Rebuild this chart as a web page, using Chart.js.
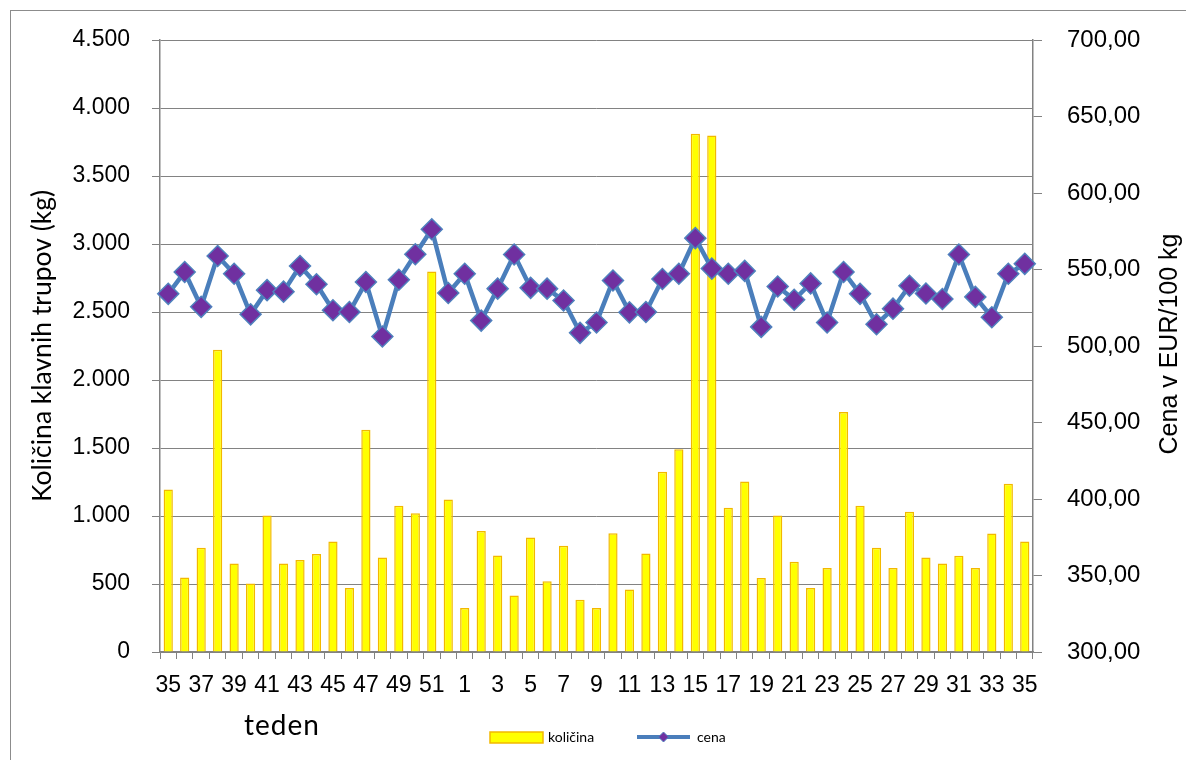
<!DOCTYPE html>
<html>
<head>
<meta charset="utf-8">
<script src="https://cdn.jsdelivr.net/npm/chart.js@4.4.1/dist/chart.umd.min.js"></script>
<style>
    html, body { margin: 0; padding: 0; background: #fff; overflow: hidden; }
    #wrap { position: relative; width: 1186px; height: 760px; }
</style>
</head>
<body>
<div id="wrap"><canvas id="chart" width="1186" height="760"></canvas></div>
<script>
// tedni: od 35. tedna do 35. tedna naslednjega leta
const weeks = [35, 36, 37, 38, 39, 40, 41, 42, 43, 44, 45, 46, 47, 48, 49, 50, 51, 52,
    1, 2, 3, 4, 5, 6, 7, 8, 9, 10, 11, 12, 13, 14, 15, 16, 17,
    18, 19, 20, 21, 22, 23, 24, 25, 26, 27, 28, 29, 30, 31, 32, 33, 34, 35];

// količina klavnih trupov (kg)
const kolicina = [1195, 547, 767, 2223, 650, 503, 1004, 650, 677, 721, 813, 471, 1635, 694, 1075, 1020, 2797, 1121,
    324, 890, 710, 416, 841, 520, 781, 384, 324, 873, 460, 724, 1325, 1491, 3811, 3798, 1061,
    1254, 544, 1004, 664, 471, 617, 1765, 1075, 767, 617, 1031, 694, 650, 707, 617, 871, 1238, 813];

// cena v EUR/100 kg
const cena = [534.1, 548.4, 525.6, 558.8, 547.2, 520.7, 536.5, 535.5, 552.3, 540.4, 523.4, 522.2, 541.8, 506.2, 543.3, 560.0, 576.3, 534.6,
    547.2, 516.6, 537.5, 559.8, 538.0, 537.5, 529.7, 508.6, 515.4, 542.8, 522.0, 522.2, 543.8, 547.2, 570.5, 550.6, 547.2,
    549.1, 512.5, 538.9, 530.2, 540.9, 515.4, 548.4, 534.1, 514.2, 524.4, 539.4, 534.3, 530.7, 559.8, 532.1, 518.8, 547.2, 553.7];

const seriesNames = ['količina', 'cena'];
const axisTitles = ['Količina klavnih trupov (kg)', 'Cena v EUR/100 kg', 'teden'];

const gridGray = '#828282';
const barFill = '#FFFF00';
const barEdge = '#F2B800';
const lineBlue = '#4A7EBB';
const markerPurple = '#7030A0';

const fmtKg = (v) => {
    if (v < 1000) return String(v);
    return Math.floor(v / 1000) + '.' + String(v % 1000).padStart(3, '0');
};
const fmtEur = (v) => v.toFixed(2).replace('.', ',');

// naslovi osi in legenda, ki jih Chart.js ne nariše tako kot v izvirniku
const extrasPlugin = {
    id: 'extras',
    afterDraw(chart) {
        const ctx = chart.ctx;
        ctx.save();

        // okvir
        ctx.strokeStyle = '#8c8c8c';
        ctx.lineWidth = 1;
        ctx.strokeRect(10.5, 10.5, 1400, 1000);

        // desni naslov
        ctx.fillStyle = '#000';
        ctx.font = '25px "Liberation Sans"';
        ctx.textAlign = 'center';
        ctx.textBaseline = 'middle';
        ctx.translate(1170, 344);
        ctx.rotate(-Math.PI / 2);
        ctx.fillText(axisTitles[1], 0, 0);
        ctx.setTransform(1, 0, 0, 1, 0, 0);

        // naslov x osi
        ctx.font = '28px Lato';
        ctx.textBaseline = 'alphabetic';
        if ('letterSpacing' in ctx) ctx.letterSpacing = '1px';
        ctx.fillText(axisTitles[2], 282, 735);
        if ('letterSpacing' in ctx) ctx.letterSpacing = '0px';

        // legenda
        const ly = 737;
        ctx.fillStyle = barFill;
        ctx.strokeStyle = barEdge;
        ctx.lineWidth = 1.5;
        ctx.fillRect(490, ly - 5, 53, 11);
        ctx.strokeRect(490, ly - 5, 53, 11);

        ctx.strokeStyle = lineBlue;
        ctx.lineWidth = 4;
        ctx.beginPath();
        ctx.moveTo(637, ly);
        ctx.lineTo(690, ly);
        ctx.stroke();
        ctx.fillStyle = markerPurple;
        ctx.strokeStyle = '#4F81BD';
        ctx.lineWidth = 1;
        ctx.beginPath();
        ctx.moveTo(663.5, ly - 5);
        ctx.lineTo(668.5, ly);
        ctx.lineTo(663.5, ly + 5);
        ctx.lineTo(658.5, ly);
        ctx.closePath();
        ctx.fill();
        ctx.stroke();

        ctx.fillStyle = '#000';
        ctx.font = '14px Lato';
        ctx.textAlign = 'left';
        ctx.textBaseline = 'middle';
        ctx.fillText(seriesNames[0], 548, ly);
        ctx.fillText(seriesNames[1], 697, ly);
        ctx.restore();
    }
};

const ctx = document.getElementById('chart').getContext('2d');
new Chart(ctx, {
    type: 'bar',
    data: {
        labels: weeks,
        datasets: [{
            type: 'bar',
            label: seriesNames[0],
            data: kolicina,
            yAxisID: 'y',
            backgroundColor: barFill,
            borderColor: barEdge,
            borderWidth: 1.5,
            barPercentage: 0.56,
            categoryPercentage: 1,
            order: 1
        }, {
            type: 'line',
            label: seriesNames[1],
            data: cena,
            yAxisID: 'y1',
            borderColor: lineBlue,
            borderWidth: 4.5,
            pointStyle: 'rectRot',
            pointRadius: 10.5,
            pointBackgroundColor: markerPurple,
            pointBorderColor: '#4F81BD',
            pointBorderWidth: 1.5,
            tension: 0,
            order: 0
        }]
    },
    options: {
        responsive: false,
        animation: false,
        layout: { padding: { left: 23, top: 40, right: 0, bottom: 0 } },
        plugins: {
            legend: { display: false },
            tooltip: { enabled: false }
        },
        scales: {
            x: {
                grid: { drawOnChartArea: false, color: gridGray, tickLength: 7, offset: true },
                border: { color: gridGray, width: 1.5 },
                ticks: {
                    autoSkip: false,
                    maxRotation: 0,
                    padding: 13,
                    color: '#000',
                    font: { family: 'Liberation Sans', size: 23 },
                    callback: (v, i) => (i % 2 === 0 ? String(weeks[i]) : '')
                },
                afterFit: (scale) => { scale.height = 108; }
            },
            y: {
                position: 'left',
                min: 0,
                max: 4500,
                grid: { color: gridGray, tickLength: 8 },
                border: { color: gridGray, width: 1.5 },
                ticks: {
                    stepSize: 500,
                    padding: 22,
                    color: '#000',
                    font: { family: 'Liberation Sans', size: 23 },
                    callback: (v) => fmtKg(v)
                },
                title: {
                    display: true,
                    text: axisTitles[0],
                    color: '#000',
                    font: { family: 'Lato', size: 26.5 }
                },
                afterFit: (scale) => { scale.width = 137; }
            },
            y1: {
                position: 'right',
                min: 300,
                max: 700,
                grid: { drawOnChartArea: false, color: gridGray, tickLength: 9 },
                border: { color: gridGray, width: 1.5 },
                ticks: {
                    stepSize: 50,
                    padding: 25,
                    color: '#000',
                    font: { family: 'Liberation Sans', size: 24 },
                    callback: (v) => fmtEur(v)
                },
                afterFit: (scale) => { scale.width = 153; }
            }
        }
    },
    plugins: [extrasPlugin]
});
</script>
</body>
</html>
